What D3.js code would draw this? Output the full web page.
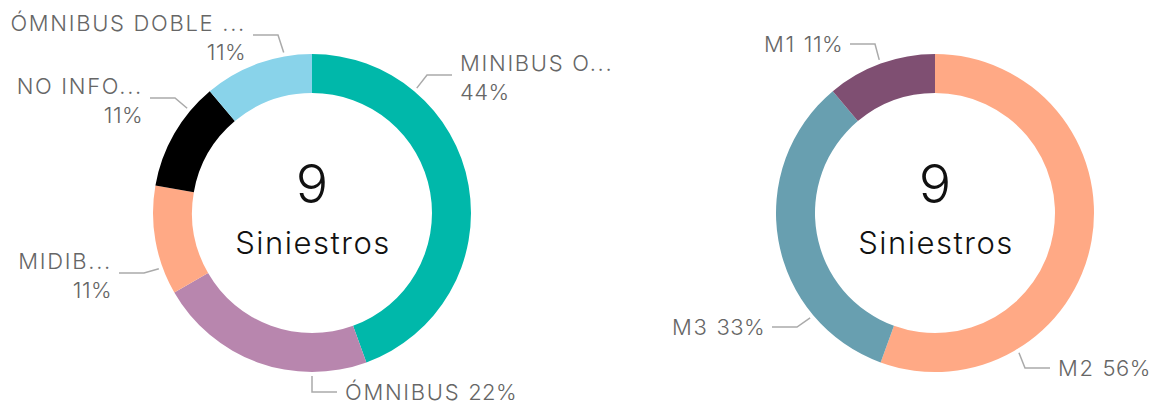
<!DOCTYPE html>
<html>
<head>
<meta charset="utf-8">
<script src="https://cdn.jsdelivr.net/npm/d3@7"></script>
<style>
  body { margin: 0; background: #fff; }
  svg { display: block; }
  text { font-family: "Inter", "Noto Sans", sans-serif; }
  .lbl { fill: #666; font-weight: 300; font-size: 22px; }
  .nm { letter-spacing: 1.7px; }
  .pc { letter-spacing: 0.4px; }
  .leader { fill: none; stroke: #aaa; stroke-width: 1.5; }
</style>
</head>
<body>
<svg id="svg" width="1152" height="406"></svg>
<script>
const width = 1152;
const height = 406;

// chart 1: tipo de vehículo
const vehicleNames = ["MINIBUS O...", "ÓMNIBUS", "MIDIB...", "NO INFO...", "ÓMNIBUS DOBLE ..."];
const vehicleCounts = [4, 2, 1, 1, 1];
const vehicleColors = ["#00b8aa", "#b886ae", "#ffa985", "#000000", "#89d3ea"];

// chart 2: categoría
const categoryNames = ["M2", "M3", "M1"];
const categoryCounts = [5, 3, 1];
const categoryColors = ["#ffa985", "#689fb0", "#7f4f72"];

const centerLabel = "Siniestros";

// label placement: angle of leader start (deg), elbow offset from center, side, two lines?
const vehicleLabelLayout = [
  { angle: 40, ex: 115, ey: -138, side: 1, split: true },
  { angle: 180, ex: 0, ey: 179, side: 1, split: false },
  { angle: 250, ex: -168, ey: 60, side: -1, split: true },
  { angle: 310, ex: -137, ey: -115, side: -1, split: true },
  { angle: 350, ex: -34, ey: -178, side: -1, split: true },
];
const categoryLabelLayout = [
  { angle: 149, ex: 90, ey: 155, side: 1, split: false },
  { angle: 230, ex: -138, ey: 114, side: -1, split: false },
  { angle: 340, ex: -60, ey: -169, side: -1, split: false },
];

const outerR = 159;
const innerR = 120;
const cy = 213;

const svg = d3.select("#svg");

const xPos = d3.scalePoint().domain(["vehicle", "category"]).range([312, 935]);

function drawDonut(key, names, counts, colors, layout) {
  const g = svg.append("g").attr("transform", `translate(${xPos(key)},${cy})`);
  const total = d3.sum(counts);
  const data = names.map((n, i) => ({ name: n, value: counts[i], color: colors[i], lay: layout[i] }));

  const pie = d3.pie().sort(null).value((d) => d.value);
  const arc = d3.arc().innerRadius(innerR).outerRadius(outerR);
  const arcs = pie(data);

  g.selectAll("path.slice")
    .data(arcs)
    .join("path")
    .attr("class", "slice")
    .attr("d", arc)
    .attr("fill", (d) => d.data.color);

  const pct = (v) => Math.round((v / total) * 100) + "%";

  arcs.forEach((a) => {
    const lay = a.data.lay;
    const ang = (lay.angle * Math.PI) / 180;
    const r0 = outerR + 4;
    const p0 = [r0 * Math.sin(ang), -r0 * Math.cos(ang)];
    const p1 = [lay.ex, lay.ey];
    const p2 = [lay.ex + lay.side * 25, lay.ey];
    g.append("polyline").attr("class", "leader").attr("points", [p0, p1, p2].map((p) => p.join(",")).join(" "));

    const tx = p2[0] + lay.side * 8 + (lay.side < 0 ? 1 : 0);
    const anchor = lay.side > 0 ? "start" : "end";
    if (lay.split) {
      g.append("text").attr("class", "lbl nm").attr("x", tx).attr("y", lay.ey - 4).attr("text-anchor", anchor).text(a.data.name);
      g.append("text").attr("class", "lbl pc").attr("x", tx).attr("y", lay.ey + 25).attr("text-anchor", anchor).text(pct(a.data.value));
    } else {
      const t = g.append("text").attr("class", "lbl").attr("x", tx).attr("y", lay.ey + 8).attr("text-anchor", anchor);
      t.append("tspan").attr("class", "nm").text(a.data.name + " ");
      t.append("tspan").attr("class", "pc").text(pct(a.data.value));
    }
  });

  g.append("text")
    .attr("text-anchor", "middle")
    .attr("y", -10)
    .attr("font-size", 54)
    .attr("font-weight", 300)
    .attr("fill", "#111")
    .text(total);
  g.append("text")
    .attr("text-anchor", "middle")
    .attr("x", 1)
    .attr("y", 41)
    .attr("font-size", 31)
    .attr("font-weight", 300)
    .attr("letter-spacing", "1.5px")
    .attr("fill", "#111")
    .text(centerLabel);
}

drawDonut("vehicle", vehicleNames, vehicleCounts, vehicleColors, vehicleLabelLayout);
drawDonut("category", categoryNames, categoryCounts, categoryColors, categoryLabelLayout);
</script>
</body>
</html>
